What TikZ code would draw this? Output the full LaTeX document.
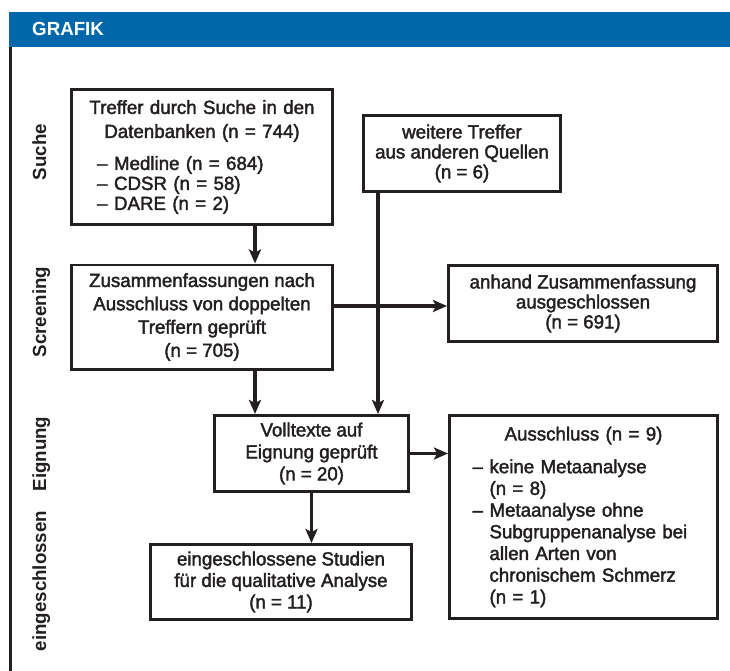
\documentclass[tikz,border=0pt]{standalone}
\usepackage{fontspec}
\setmainfont{Liberation Sans}[FakeStretch=0.985,UprightFeatures={FakeBold=2}]
\usetikzlibrary{arrows.meta}
\definecolor{ink}{HTML}{231F20}
\definecolor{barblue}{HTML}{0067AA}
\begin{document}
\begin{tikzpicture}[x=1pt,y=-1pt,
  box/.style 2 args={draw=ink,line width=2.6pt,minimum width=#1,minimum height=#2,
    inner sep=0pt,align=center,text=ink,font=\fontsize{19}{20}\selectfont},
  arr/.style={draw=ink,line width=3.6pt,-{Stealth[length=14pt,width=12pt,inset=3pt]}},
  lab/.style={rotate=90,anchor=base,text=ink,inner sep=0pt,font=\bfseries\fontsize{19}{20}\selectfont}]
\useasboundingbox (0,0) rectangle (730,671);
\fill[white] (0,0) rectangle (730,671);
% header bar and frame
\fill[barblue] (9,12) rectangle (730,47);
\node[anchor=base west,inner sep=0pt,text=white,font=\bfseries\fontsize{19}{20}\selectfont] (title) at (32,36) {GRAFIK};
\draw[ink,line width=3pt] (10.5,47) -- (10.5,671);
% phase labels
\node[lab] (lSuche) at (46,152) {Suche};
\node[lab] (lScreen) at (46,312) {Screening};
\node[lab] (lEign) at (46,454) {Eignung};
\node[lab] (lEin) at (46,581) {eingeschlossen};
% boxes
\node[box={261.4}{135.4},align=left,text width=246pt] (B1) at (202,157)
 {\makebox[\linewidth]{Treffer durch Suche in den}\\[4pt]
  \makebox[\linewidth]{Datenbanken (n = 744)}\\[12pt]
  \hspace*{18pt}\makebox[17pt][l]{–}Medline (n = 684)\\
  \hspace*{18pt}\makebox[17pt][l]{–}CDSR (n = 58)\\
  \hspace*{18pt}\makebox[17pt][l]{–}DARE (n = 2)};
\node[box={197.4}{76.4}] (B2) at (462,153.5)
 {weitere Treffer\\aus anderen Quellen\\(n = 6)};
\node[box={261.4}{104.4}] (B3) at (202,317)
 {Zusammenfassungen nach\\[3.3pt]Ausschluss von doppelten\\[3.3pt]Treffern geprüft\\[3.3pt](n = 705)};
\node[box={269.4}{76.4}] (B4) at (583,303.5)
 {anhand Zusammenfassung\\ausgeschlossen\\(n = 691)};
\node[box={194.4}{76.4}] (B5) at (311.5,453.5)
 {Volltexte auf\\[2pt]Eignung geprüft\\[2pt](n = 20)};
\node[box={268.4}{203.4},align=left,text width=256pt,font=\fontsize{19}{21.7}\selectfont] (B6) at (583.5,517)
 {\makebox[\linewidth]{Ausschluss (n = 9)}\\[11pt]
  \hspace*{17pt}\makebox[17pt][l]{–}keine Metaanalyse\\
  \hspace*{34pt}(n = 8)\\
  \hspace*{17pt}\makebox[17pt][l]{–}Metaanalyse ohne\\
  \hspace*{34pt}Subgruppenanalyse bei\\
  \hspace*{34pt}allen Arten von\\
  \hspace*{34pt}chronischem Schmerz\\
  \hspace*{34pt}(n = 1)};
\node[box={261.4}{75.4},font=\fontsize{19}{21.5}\selectfont] (B7) at (281,582)
 {eingeschlossene Studien\\für die qualitative Analyse\\(n = 11)};
% connectors
\coordinate (c1) at (255,0);
\coordinate (c2) at (378,0);
\coordinate (r1) at (0,306);
\draw[arr] (B1.south -| c1) -- (B3.north -| c1);
\draw[arr] (B3.south -| c1) -- (B5.north -| c1);
\draw[arr] (B2.south -| c2) -- (B5.north -| c2);
\draw[arr] (B3.east |- r1) -- (B4.west |- r1);
\draw[arr] (B5.east) -- (B6.west |- B5.east);
\draw[arr] (B5.south) -- (B7.north -| B5.south);
\end{tikzpicture}
\end{document}
